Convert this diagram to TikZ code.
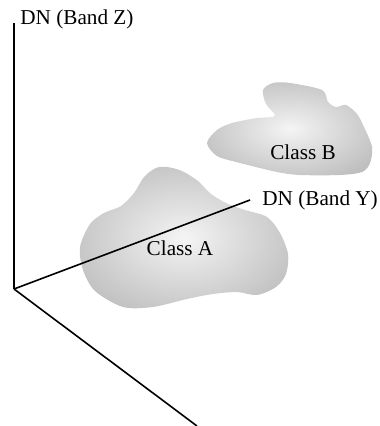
\documentclass[tikz,border=0pt]{standalone}
\usepackage{fontspec}
\setmainfont{Liberation Serif}
\usetikzlibrary{positioning}

\pgfdeclareradialshading{blobshade}{\pgfpoint{0bp}{0bp}}{%
  color(0bp)=(white!96!black);
  color(8bp)=(white!90!black);
  color(34bp)=(white!72!black);
  color(48bp)=(white!64!black);
  color(70bp)=(white!60!black)}

\begin{document}
\begin{tikzpicture}[%
      x=0.5pt, y=-0.5pt,
      axis/.style={draw=black, line width=0.8pt},
      blob/.style={shading=blobshade},
      lbl/.style={font=\fontsize{10.6}{12.7}\selectfont, inner sep=0pt},
      ]
      \useasboundingbox (0,0) rectangle (379,426);

      % clusters
      \shade[blob] plot[smooth cycle] coordinates {
        (290,83) (322,90) (328,102) (336,107) (346,105) (357,114)
        (364,127) (372,147) (370,163) (362,172) (340,175) (300,175)
        (277,172) (240,163) (217,156) (207,143) (217,130) (232,123)
        (257,118) (275,116) (266,104) (263,90) (273,83)};
      \shade[blob] plot[smooth cycle] coordinates {
        (167,167) (182,171) (198,181) (211,194) (228,204) (245,210)
        (267,217) (280,233) (288,254) (286,274) (276,287) (257,295)
        (237,292) (213,294) (187,299) (153,307) (123,307) (95,291)
        (83,270) (80,247) (90,224) (104,213) (121,206) (134,193)
        (144,177) (156,168)};

      \node[lbl] (clsB) at (303,152) {Class B};
      \node[lbl] (clsA) at (180,248) {Class A};

      % axes
      \coordinate (O) at (14,289);
      \coordinate (zEnd) at (14,23);
      \coordinate (yEnd) at (250,200);
      \coordinate (xEnd) at (197,426);
      \draw[axis] (O) -- (zEnd);
      \draw[axis] (O) -- (yEnd);
      \draw[axis] (O) -- (xEnd);

      \node[lbl, anchor=base west] (zLab) at ([shift={(3pt,-1pt)}]zEnd) {DN (Band Z)};
      \node[lbl, right=6pt of yEnd] (yLab) {DN (Band Y)};
\end{tikzpicture}
\end{document}
